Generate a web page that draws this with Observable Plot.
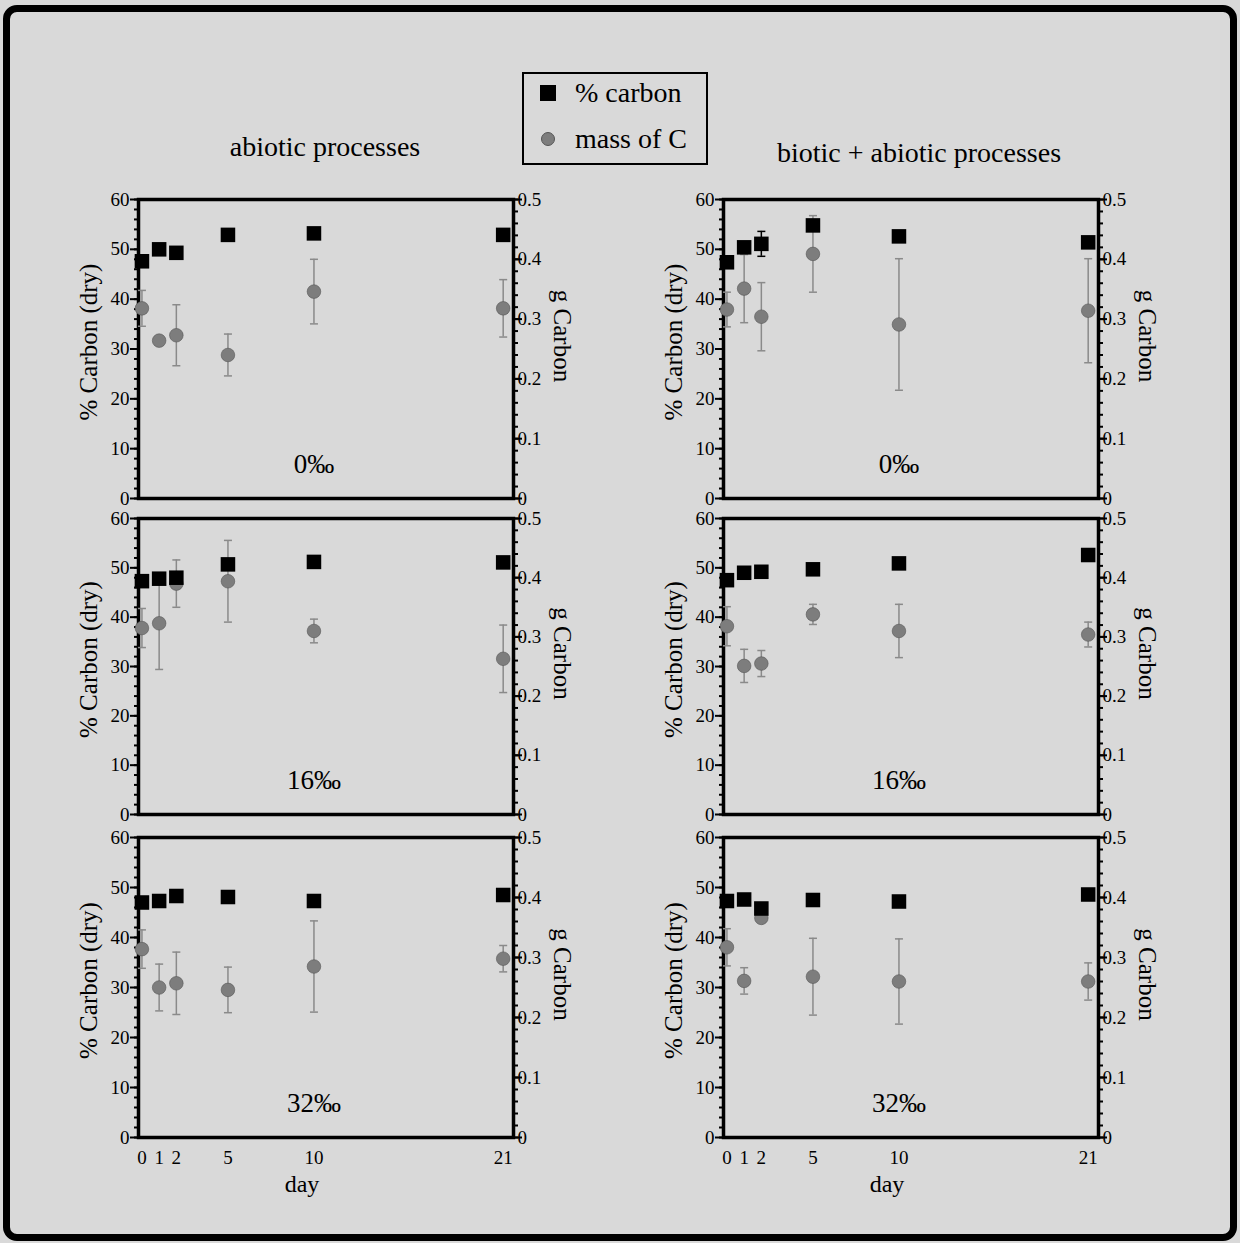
<!DOCTYPE html>
<html><head><meta charset="utf-8">
<script src="https://cdn.jsdelivr.net/npm/d3@7"></script>
<script src="https://cdn.jsdelivr.net/npm/@observablehq/plot@0.6"></script>
<style>
html,body{margin:0;padding:0;background:#d9d9d9;}
#page{position:relative;width:1240px;height:1243px;background:#d9d9d9;overflow:hidden;font-family:"Liberation Serif","Times New Roman",serif;color:#000;}
#border{position:absolute;left:3px;top:5px;width:1234px;height:1236px;box-sizing:border-box;border:7px solid #000;border-radius:14px;}
.title{position:absolute;font-size:28px;white-space:nowrap;transform:translateX(-50%);line-height:32px;}
#legend{position:absolute;left:522px;top:72px;width:186px;height:93px;box-sizing:border-box;border:2px solid #000;}
#legend .sq{position:absolute;left:16px;top:11px;width:16px;height:16px;background:#000;}
#legend .ci{position:absolute;left:17px;top:58px;width:14px;height:14px;border-radius:50%;background:#7d7d7d;box-sizing:border-box;border:0.6px solid #555;}
#legend .lab{position:absolute;left:51px;font-size:28px;line-height:32px;white-space:nowrap;}
.panel{position:absolute;}
</style>
</head><body>
<div id="page">
  <div id="border"></div>
  <div class="title" id="t0"></div>
  <div class="title" id="t1"></div>
  <div id="legend">
    <div class="sq"></div><div class="lab" id="l0" style="top:3px"></div>
    <div class="ci"></div><div class="lab" id="l1" style="top:49px"></div>
  </div>
</div>
<script>
// ---------------- data ----------------
const days = [0, 1, 2, 5, 10, 21];
const xTicks = [0, 1, 2, 5, 10, 21];
const columnTitles = ["abiotic processes", "biotic + abiotic processes"];
const salinity = ["0‰", "16‰", "32‰"];
const seriesNames = ["% carbon", "mass of C"];
const yTitle = "% Carbon (dry)";
const gTitle = "g Carbon";
const xTitle = "day";
const yMajor = [0, 10, 20, 30, 40, 50, 60];
const gMajor = [0, 0.1, 0.2, 0.3, 0.4, 0.5];

// panel order: abiotic 0‰, biotic 0‰, abiotic 16‰, biotic 16‰, abiotic 32‰, biotic 32‰
const pctCarbon = [
  [47.6, 50.0, 49.3, 52.9, 53.2, 52.9],
  [47.4, 50.4, 51.1, 54.8, 52.6, 51.4],
  [47.3, 47.8, 48.0, 50.7, 51.2, 51.1],
  [47.5, 49.0, 49.2, 49.7, 50.9, 52.6],
  [47.0, 47.3, 48.3, 48.1, 47.3, 48.5],
  [47.3, 47.6, 45.8, 47.5, 47.2, 48.6]
];
const pctErr = [
  [0.5, 0.5, 0.5, 0.5, 0.5, 0.5],
  [0.5, 0.5, 2.5, 0.8, 0.5, 0.8],
  [0.5, 0.5, 0.5, 0.5, 0.5, 0.5],
  [0.5, 0.5, 0.5, 0.5, 0.5, 0.5],
  [0.5, 0.5, 0.5, 0.5, 0.5, 0.5],
  [0.5, 0.5, 0.8, 0.5, 0.5, 0.5]
];
const massC = [
  [0.318, 0.264, 0.273, 0.240, 0.346, 0.318],
  [0.316, 0.351, 0.304, 0.409, 0.291, 0.314],
  [0.315, 0.323, 0.390, 0.394, 0.310, 0.263],
  [0.318, 0.251, 0.255, 0.338, 0.310, 0.304],
  [0.314, 0.250, 0.257, 0.246, 0.285, 0.298],
  [0.317, 0.261, 0.366, 0.268, 0.260, 0.260]
];
const massErr = [
  [0.030, 0.004, 0.051, 0.035, 0.054, 0.048],
  [0.029, 0.057, 0.057, 0.064, 0.110, 0.087],
  [0.033, 0.078, 0.040, 0.069, 0.020, 0.057],
  [0.033, 0.028, 0.022, 0.017, 0.045, 0.021],
  [0.032, 0.039, 0.052, 0.038, 0.076, 0.022],
  [0.031, 0.022, 0.008, 0.064, 0.071, 0.031]
];

// ---------------- layout / style ----------------
const yMax = 60, gMax = 0.5, K = yMax / gMax;
const yMinor = d3.range(0, yMax + 0.001, 2);
const gMinor = d3.range(0, gMax + 0.0001, 0.02);
const xDomain = [-0.2, 21.6];
const colLeft = [138, 723];
const rowTop = [199, 518, 837];
const rowH = [299, 296, 300];
const frameW = 375;
const errGray = "#8a8a8a";
const dotGray = "#7d7d7d";
const gFmt = v => Math.abs(v) < 1e-9 ? "0" : d3.format(".1f")(v);

const cap = {draw(ctx, size) { const r = Math.sqrt(size / Math.PI); ctx.moveTo(-r, 0); ctx.lineTo(r, 0); }};

document.getElementById("t0").textContent = columnTitles[0];
document.getElementById("t1").textContent = columnTitles[1];
Object.assign(document.getElementById("t0").style, {left: "325px", top: "131px"});
Object.assign(document.getElementById("t1").style, {left: "919px", top: "137px"});
document.getElementById("l0").textContent = seriesNames[0];
document.getElementById("l1").textContent = seriesNames[1];

function panel(i) {
  const col = i % 2, row = Math.floor(i / 2);
  const last = row === 2;
  const ML = 80, MR = 80, MT = 12, MB = last ? 75 : 12;
  const rows = days.map((d, j) => ({day: d, pct: pctCarbon[i][j], pe: pctErr[i][j], m: massC[i][j], me: massErr[i][j]}));
  const marks = [
    Plot.axisY({anchor: "left", ticks: yMinor, tickSize: 4, tickFormat: () => "", label: null, strokeWidth: 2}),
    Plot.axisY({anchor: "left", ticks: yMajor, tickSize: 8, tickPadding: 1, label: null, strokeWidth: 2, fontSize: 19}),
    Plot.axisY({anchor: "right", ticks: gMinor.map(g => g * K), tickSize: 4, tickFormat: () => "", label: null, strokeWidth: 2}),
    Plot.axisY({anchor: "right", ticks: gMajor.map(g => g * K), tickSize: 8, tickPadding: -4, tickFormat: v => gFmt(v / K), label: null, strokeWidth: 2, fontSize: 19}),
    Plot.frame({stroke: "#000", strokeWidth: 3.5}),
    Plot.text([yTitle], {frameAnchor: "left", textAnchor: "middle", rotate: -90, dx: -50, dy: -7, fontSize: 25}),
    Plot.text([gTitle], {frameAnchor: "right", textAnchor: "middle", rotate: 90, dx: 48, dy: -13, fontSize: 25}),
    Plot.text([salinity[row]], {frameAnchor: "bottom", dy: -26, dx: -12, fontSize: 27}),
    // mass of C (right axis), error bars
    Plot.ruleX(rows, {x: "day", y1: d => (d.m - d.me) * K, y2: d => (d.m + d.me) * K, stroke: errGray, strokeWidth: 1.5}),
    Plot.dot(rows, {x: "day", y: d => (d.m + d.me) * K, symbol: cap, r: 4, stroke: errGray, strokeWidth: 1.5, fill: "none"}),
    Plot.dot(rows, {x: "day", y: d => (d.m - d.me) * K, symbol: cap, r: 4, stroke: errGray, strokeWidth: 1.5, fill: "none"}),
    Plot.dot(rows, {x: "day", y: d => d.m * K, r: 6.8, fill: dotGray, stroke: "#555", strokeWidth: 0.6}),
    // % carbon (left axis)
    Plot.ruleX(rows, {x: "day", y1: d => d.pct - d.pe, y2: d => d.pct + d.pe, stroke: "#000", strokeWidth: 1.5}),
    Plot.dot(rows, {x: "day", y: d => d.pct + d.pe, symbol: cap, r: 4, stroke: "#000", strokeWidth: 1.5, fill: "none"}),
    Plot.dot(rows, {x: "day", y: d => d.pct - d.pe, symbol: cap, r: 4, stroke: "#000", strokeWidth: 1.5, fill: "none"}),
    Plot.dot(rows, {x: "day", y: "pct", symbol: "square", r: 8.2, fill: "#000", stroke: "none"})
  ];
  if (last) {
    marks.push(Plot.axisX({anchor: "bottom", ticks: xTicks, tickSize: 0, tickPadding: 13, label: null, fontSize: 19}));
    marks.push(Plot.text([xTitle], {frameAnchor: "bottom", dy: 54, dx: -24, fontSize: 24}));
  }
  const svg = Plot.plot({
    width: ML + frameW + MR,
    height: MT + rowH[row] + MB,
    marginLeft: ML, marginRight: MR, marginTop: MT, marginBottom: MB,
    x: {domain: xDomain, axis: null},
    y: {domain: [0, yMax], axis: null},
    style: {fontFamily: '"Liberation Serif", "Times New Roman", serif', fontSize: "20px", background: "none", overflow: "visible", color: "#000"},
    marks
  });
  const wrap = document.createElement("div");
  wrap.className = "panel";
  wrap.style.left = (colLeft[col] - ML) + "px";
  wrap.style.top = (rowTop[row] - MT) + "px";
  wrap.appendChild(svg);
  document.getElementById("page").appendChild(wrap);
}
for (let i = 0; i < 6; i++) panel(i);
</script>
</body></html>
